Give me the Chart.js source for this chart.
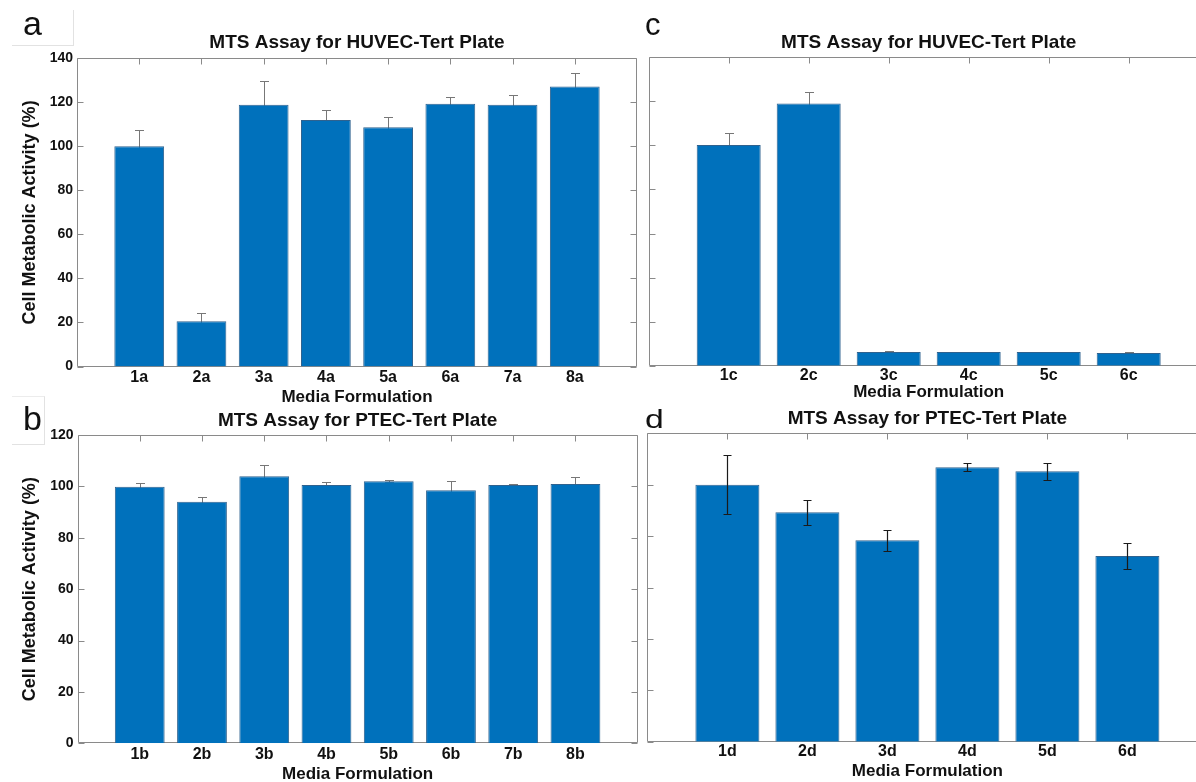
<!DOCTYPE html>
<html>
<head>
<meta charset="utf-8">
<script src="https://cdn.jsdelivr.net/npm/chart.js@4.4.1/dist/chart.umd.min.js"></script>
<style>
html,body{margin:0;padding:0;background:#fff;overflow:hidden;}
#wrap{position:relative;width:1196px;height:782px;overflow:hidden;background:#fff;}
canvas{position:absolute;z-index:1;}
.lbl{position:absolute;z-index:5;font-family:'Liberation Sans',Arial,sans-serif;color:#111;line-height:1;white-space:nowrap;}
.box{position:absolute;z-index:0;border-right:1px solid #e2e2e2;border-bottom:1px solid #e2e2e2;}
</style>
</head>
<body>
<div id="wrap">
  <div class="box" style="left:12px;top:10px;width:61px;height:35px;"></div>
  <div class="box" style="left:12px;top:396px;width:32px;height:47px;border-top:1px solid #ececec;"></div>
  <canvas id="ca" width="660" height="420" style="left:0;top:0;"></canvas>
  <canvas id="cb" width="660" height="420" style="left:0;top:380px;"></canvas>
  <canvas id="cc" width="640" height="420" style="left:600px;top:0;"></canvas>
  <canvas id="cd" width="640" height="420" style="left:600px;top:380px;"></canvas>
  <div class="lbl" style="left:23px;top:6px;font-size:34px;">a</div>
  <div class="lbl" style="left:23px;top:401px;font-size:34px;">b</div>
  <div class="lbl" style="left:645px;top:9px;font-size:31px;">c</div>
  <div class="lbl" style="left:645px;top:407px;font-size:25px;transform:scaleX(1.35);transform-origin:0 0;">d</div>
</div>
<script>
// ---- data ----
const catsA = ['1a','2a','3a','4a','5a','6a','7a','8a'];
const valsA = [100.1, 20.5, 118.9, 112.0, 108.7, 119.3, 118.9, 127.2];
const errA  = [7.3, 4.0, 10.9, 4.6, 4.6, 2.9, 4.6, 5.9];

const catsB = ['1b','2b','3b','4b','5b','6b','7b','8b'];
const valsB = [99.9, 94.0, 103.9, 100.5, 102.0, 98.5, 100.5, 100.9];
const errB  = [1.5, 1.9, 4.3, 1.3, 0.3, 3.7, 0.5, 2.6];

const catsC = ['1c','2c','3c','4c','5c','6c'];
const valsC = [100.2, 119.0, 6.2, 6.2, 6.2, 5.8];
const errC  = [5.5, 5.4, 0.3, 0.2, 0.2, 0.3];

const catsD = ['1d','2d','3d','4d','5d','6d'];
const valsD = [100.0, 89.3, 78.4, 106.8, 105.2, 72.3];
const errD  = [11.4, 4.9, 4.1, 1.5, 3.3, 5.2];

const yTicksA = [0, 20, 40, 60, 80, 100, 120, 140];
const yTicksB = [0, 20, 40, 60, 80, 100, 120];

const titleHUVEC = 'MTS Assay for HUVEC-Tert Plate';
const titlePTEC  = 'MTS Assay for PTEC-Tert Plate';
const xTitle = 'Media Formulation';
const yTitle = 'Cell Metabolic Activity (%)';

// ---- style ----
Chart.defaults.font.family = "'Liberation Sans', Arial, Helvetica, sans-serif";
const BAR = '#0071BC';
const EDGE = '#2f628f';
const FRAME = '#8a8a8a';
const TXT = '#111111';

function framePlugin() {
  return {
    id: 'frame',
    beforeDatasetsDraw(chart) {
      const {ctx, chartArea: a, scales: {x, y}} = chart;
      const L = Math.round(a.left) + 0.5, R = Math.round(a.right) - 0.5;
      const T = Math.round(a.top) + 0.5, B = Math.round(a.bottom) - 0.5;
      ctx.save();
      ctx.strokeStyle = FRAME;
      ctx.lineWidth = 1;
      ctx.beginPath();
      ctx.rect(L, T, R - L, B - T);
      const tl = 6;
      y.ticks.forEach(t => {
        const py = Math.round(y.getPixelForValue(t.value)) + 0.5;
        ctx.moveTo(L, py); ctx.lineTo(L + tl, py);
        ctx.moveTo(R, py); ctx.lineTo(R - tl, py);
      });
      x.ticks.forEach(t => {
        const px = Math.round(x.getPixelForValue(t.value)) + 0.5;
        ctx.moveTo(px, T); ctx.lineTo(px, T + tl);
        ctx.moveTo(px, B); ctx.lineTo(px, B - tl);
      });
      ctx.stroke();
      ctx.restore();
    }
  };
}

function errPlugin(vals, errs, color, width, cap, front) {
  const draw = (chart) => {
    const {ctx, scales: {x, y}} = chart;
    ctx.save();
    ctx.strokeStyle = color;
    ctx.lineWidth = width;
    ctx.beginPath();
    vals.forEach((v, i) => {
      const px = Math.round(x.getPixelForValue(i + 1)) + 0.5;
      const t = Math.round(y.getPixelForValue(v + errs[i])) + 0.5;
      const b = Math.round(y.getPixelForValue(v - errs[i])) + 0.5;
      ctx.moveTo(px, t); ctx.lineTo(px, b);
      ctx.moveTo(px - cap, t); ctx.lineTo(px + cap, t);
      ctx.moveTo(px - cap, b); ctx.lineTo(px + cap, b);
    });
    ctx.stroke();
    ctx.restore();
  };
  return front ? {id: 'err', afterDatasetsDraw: draw} : {id: 'err', beforeDatasetsDraw: draw};
}

function panel(id, c) {
  const ymax = c.yTicks[c.yTicks.length - 1];
  new Chart(document.getElementById(id), {
    type: 'bar',
    data: {
      datasets: [{
        data: c.vals.map((v, i) => ({x: i + 1, y: v})),
        backgroundColor: BAR,
        borderColor: EDGE,
        borderWidth: 1,
        barPercentage: 0.8,
        categoryPercentage: 1.0
      }]
    },
    options: {
      responsive: false,
      animation: false,
      devicePixelRatio: 1,
      layout: {padding: {left: 0, right: c.padRight, top: 0, bottom: 0}},
      plugins: {
        legend: {display: false},
        tooltip: {enabled: false},
        title: {
          display: true, text: c.title, fullSize: false, color: TXT,
          font: {size: 19, weight: 'bold', lineHeight: 1.2},
          padding: {top: c.tTop, bottom: c.tBot}
        }
      },
      scales: {
        x: {
          type: 'linear', min: 0, max: c.cats.length + 1, offset: false,
          afterBuildTicks: s => { s.ticks = c.cats.map((n, i) => ({value: i + 1})); },
          ticks: {
            callback: v => c.cats[Math.round(v) - 1] ?? '',
            padding: c.xTickPad, color: TXT, autoSkip: false, maxRotation: 0,
            font: {size: 16, weight: 'bold', lineHeight: 1.2}
          },
          grid: {display: false, drawTicks: false},
          border: {display: false},
          title: {
            display: true, text: xTitle, color: TXT,
            font: {size: 17, weight: 'bold', lineHeight: 1.2},
            padding: {top: 0, bottom: c.xTitlePad}
          },
          afterFit: s => { s.height = c.xH; }
        },
        y: {
          type: 'linear', min: 0, max: ymax,
          afterBuildTicks: s => { s.ticks = c.yTicks.map(v => ({value: v})); },
          ticks: {
            display: c.showY, padding: 4, color: TXT,
            font: {size: 14, weight: 'bold', lineHeight: 1.2}
          },
          grid: {display: false, drawTicks: false},
          border: {display: false},
          title: {
            display: c.showY, text: yTitle, color: TXT,
            font: {size: 18, weight: 'bold', lineHeight: 1.2},
            padding: {top: c.yTitlePad || 0, bottom: 0}
          },
          afterFit: s => { s.width = c.yW; }
        }
      }
    },
    plugins: [framePlugin(), errPlugin(c.vals, c.errs, c.errColor, c.errWidth, c.cap, c.front)]
  });
}

panel('ca', {cats: catsA, vals: valsA, errs: errA, yTicks: yTicksA, title: titleHUVEC,
  showY: true, yW: 77, padRight: 23, tTop: 31.6, tBot: 3.9, xH: 53.5, xTickPad: 1, xTitlePad: 12,
  yTitlePad: 19.2, errColor: '#777777', errWidth: 1, cap: 4.5, front: false});

panel('cb', {cats: catsB, vals: valsB, errs: errB, yTicks: yTicksB, title: titlePTEC,
  showY: true, yW: 77.5, padRight: 22.3, tTop: 29.4, tBot: 2.8, xH: 56.7, xTickPad: 2, xTitlePad: 15.8,
  yTitlePad: 19.2, errColor: '#777777', errWidth: 1, cap: 4.5, front: false});

panel('cc', {cats: catsC, vals: valsC, errs: errC, yTicks: yTicksA, title: titleHUVEC,
  showY: false, yW: 48.7, padRight: 31.3, tTop: 31.6, tBot: 2.9, xH: 54.3, xTickPad: 0.5, xTitlePad: 17.3,
  errColor: '#777777', errWidth: 1, cap: 4.5, front: false});

panel('cd', {cats: catsD, vals: valsD, errs: errD, yTicks: yTicksB, title: titlePTEC,
  showY: false, yW: 47.4, padRight: 32.6, tTop: 27.4, tBot: 3.1, xH: 58.3, xTickPad: 0.4, xTitlePad: 18.3,
  errColor: '#1a1a1a', errWidth: 1.2, cap: 4, front: true});
</script>
</body>
</html>
